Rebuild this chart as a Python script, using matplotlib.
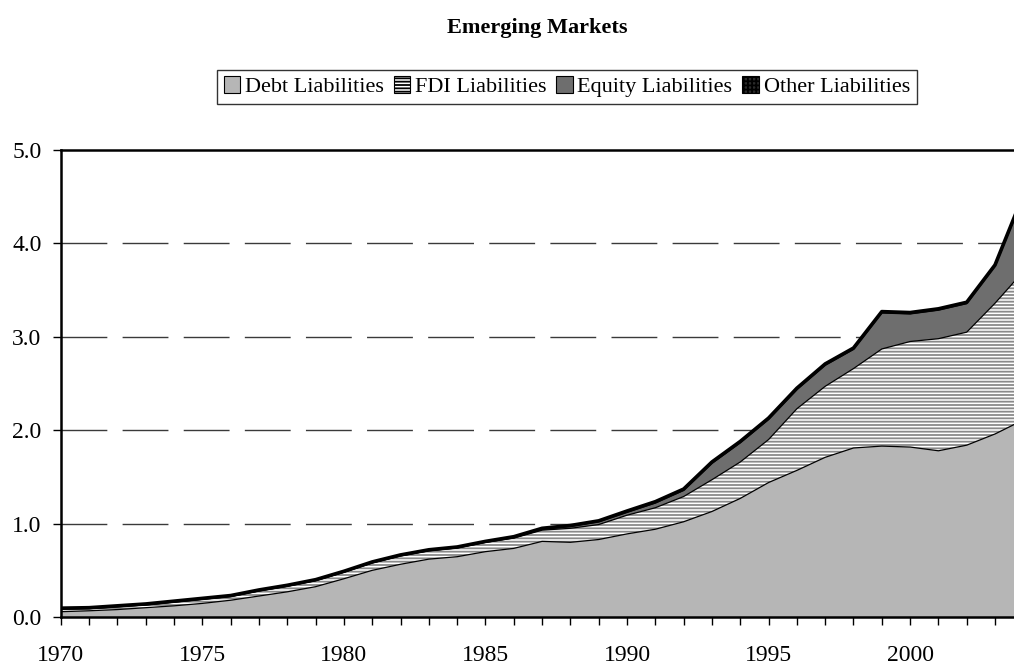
import numpy as np
import matplotlib
matplotlib.use("Agg")
import matplotlib.pyplot as plt
from matplotlib.patches import Patch

plt.rcParams["font.family"] = ["Liberation Serif", "DejaVu Serif"]
plt.rcParams["hatch.linewidth"] = 1.3

# Values (stacked components)
years = list(range(1970, 2005))
debt = [0.057, 0.067, 0.08, 0.10, 0.12, 0.146, 0.18, 0.225, 0.27, 0.325,
        0.41, 0.50, 0.565, 0.62, 0.646, 0.70, 0.735, 0.81, 0.80, 0.83,
        0.89, 0.94, 1.02, 1.13, 1.27, 1.44, 1.57, 1.71, 1.81, 1.83,
        1.82, 1.78, 1.84, 1.96, 2.11]
fdi = [0.028, 0.023, 0.03, 0.03, 0.04, 0.044, 0.04, 0.055, 0.06, 0.065,
       0.07, 0.08, 0.09, 0.09, 0.094, 0.10, 0.11, 0.12, 0.15, 0.16,
       0.20, 0.23, 0.27, 0.34, 0.39, 0.46, 0.66, 0.76, 0.85, 1.04,
       1.13, 1.20, 1.21, 1.40, 1.59]
equity = [0.0, 0.0, 0.0, 0.0, 0.0, 0.0, 0.0, 0.0, 0.0, 0.0,
          0.0, 0.0, 0.0, 0.0, 0.0, 0.0, 0.005, 0.01, 0.02, 0.03,
          0.03, 0.05, 0.065, 0.175, 0.205, 0.215, 0.205, 0.225, 0.205, 0.385,
          0.295, 0.305, 0.305, 0.395, 0.80]
other = [0.01] * 20 + [0.015] * 14 + [0.02]
labels = ["Debt Liabilities", "FDI Liabilities", "Equity Liabilities", "Other Liabilities"]

x = np.array(years)
c1 = np.array(debt)
c2 = c1 + np.array(fdi)
c3 = c2 + np.array(equity)
c4 = c3 + np.array(other)

fig = plt.figure(figsize=(10.14, 6.68), dpi=100)
ax = fig.add_axes([0.060, 0.0763, 0.94, 0.6991])

# gridlines
for v in [1, 2, 3, 4]:
    ax.axhline(v, color="#3a3a3a", lw=1.0, ls=(0, (33, 11)), zorder=1)

ax.fill_between(x, 0, c1, facecolor="#b6b6b6", edgecolor="none", lw=0, zorder=2)
ax.fill_between(x, c1, c2, facecolor="white", edgecolor="#8a8a8a", hatch="-----", lw=0, zorder=2)
ax.fill_between(x, c2, c3, facecolor="#6e6e6e", edgecolor="none", lw=0, zorder=2)
ax.fill_between(x, c3, c4, facecolor="#2a2a2a", edgecolor="none", lw=0, zorder=2)
ax.plot(x, c1, color="black", lw=0.9, zorder=3)
ax.plot(x, c2, color="black", lw=0.9, zorder=3)
ax.plot(x, c3, color="black", lw=0.9, zorder=3)
ax.plot(x, c4, color="black", lw=2.6, zorder=3)

ax.set_xlim(1970, 2003.67)
ax.set_ylim(0, 5)
ax.set_yticks([0, 1, 2, 3, 4, 5])
ax.set_yticklabels(["0.0", "1.0", "2.0", "3.0", "4.0", "5.0"])
ax.set_xticks(years[:34])
ax.set_xticklabels([str(y) if y % 5 == 0 else "" for y in years[:34]])
ax.tick_params(axis="y", direction="out", length=6, width=1, pad=8, labelsize=17)
ax.tick_params(axis="x", direction="out", length=6, width=1, pad=14, labelsize=17)

for s in ["left", "bottom", "top"]:
    ax.spines[s].set_linewidth(1.8)
ax.spines["right"].set_visible(False)

fig.text(0.5296, 0.958, "Emerging Markets", ha="center", va="center",
         fontsize=16, fontweight="bold")

handles = [
    Patch(facecolor="#b6b6b6", edgecolor="black", lw=0.8),
    Patch(facecolor="white", edgecolor="black", hatch="-----", lw=0.8),
    Patch(facecolor="#6e6e6e", edgecolor="black", lw=0.8),
    Patch(facecolor="#2a2a2a", edgecolor="black", lw=0.8, hatch="++++"),
]
leg = fig.legend(handles, labels, loc="center", bbox_to_anchor=(0.559, 0.870),
                 ncol=4, fontsize=16, frameon=True, fancybox=False,
                 handlelength=0.75, handleheight=0.75, handletextpad=0.2,
                 columnspacing=0.45, borderpad=0.3, borderaxespad=0)
leg.get_frame().set_edgecolor("black")
leg.get_frame().set_linewidth(1.0)

fig.savefig("out.png", dpi=100)
